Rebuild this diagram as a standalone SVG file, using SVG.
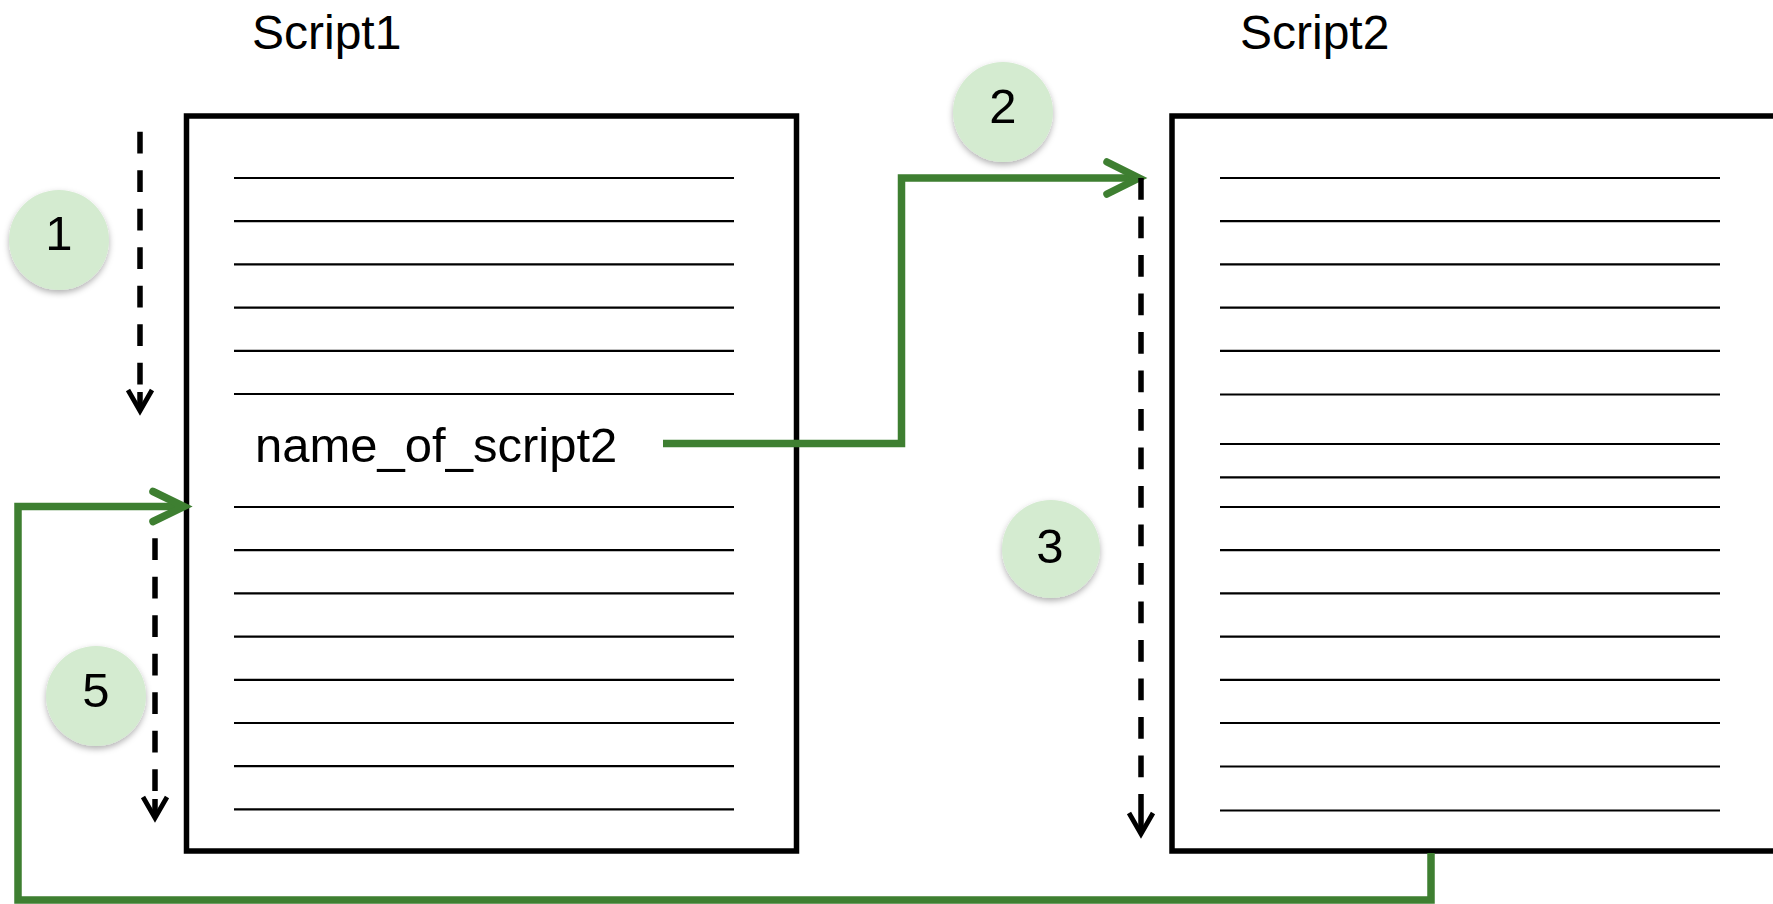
<svg xmlns="http://www.w3.org/2000/svg" width="1773" height="904" viewBox="0 0 1773 904">
  <style>
    .box { fill: #ffffff; stroke: #000000; stroke-width: 5.5; stroke-linejoin: miter; }
    .rule { stroke: #000000; stroke-width: 2.2; }
    .title { font-family: "Liberation Sans", Arial, sans-serif; font-size: 48px; fill: #000000; }
    .code { font-family: "Liberation Sans", Arial, sans-serif; font-size: 49px; fill: #000000; }
    .num { font-family: "Liberation Sans", Arial, sans-serif; font-size: 49px; fill: #000000; text-anchor: middle; }
    .badge { fill: #d4ebd0; filter: url(#shadow); }
    .flow { fill: none; stroke: #3e7f31; stroke-width: 7.5; stroke-linejoin: miter; }
    .head { fill: none; stroke: #3e7f31; stroke-width: 7.5; stroke-linecap: round; stroke-linejoin: miter; }
    .dash { fill: none; stroke: #000000; stroke-width: 5.5; stroke-dasharray: 21.7 16.8; }
    .solid { stroke-dasharray: none; }
    .dhead { fill: none; stroke: #000000; stroke-width: 4.8; stroke-linejoin: miter; }
  </style>
  <defs>
    <filter id="shadow" x="-30%" y="-30%" width="160%" height="170%">
      <feDropShadow dx="0" dy="3" stdDeviation="3" flood-color="#000000" flood-opacity="0.3"/>
    </filter>
  </defs>

  <g id="script1">
    <text class="title" x="252" y="49">Script1</text>
    <rect class="box" x="186.5" y="116" width="610" height="735"/>
    <g class="rules">
      <line class="rule" x1="234" y1="178" x2="734" y2="178"/>
      <line class="rule" x1="234" y1="221.2" x2="734" y2="221.2"/>
      <line class="rule" x1="234" y1="264.4" x2="734" y2="264.4"/>
      <line class="rule" x1="234" y1="307.6" x2="734" y2="307.6"/>
      <line class="rule" x1="234" y1="350.8" x2="734" y2="350.8"/>
      <line class="rule" x1="234" y1="394" x2="734" y2="394"/>
      <line class="rule" x1="234" y1="507" x2="734" y2="507"/>
      <line class="rule" x1="234" y1="550.2" x2="734" y2="550.2"/>
      <line class="rule" x1="234" y1="593.4" x2="734" y2="593.4"/>
      <line class="rule" x1="234" y1="636.6" x2="734" y2="636.6"/>
      <line class="rule" x1="234" y1="679.8" x2="734" y2="679.8"/>
      <line class="rule" x1="234" y1="723" x2="734" y2="723"/>
      <line class="rule" x1="234" y1="766.2" x2="734" y2="766.2"/>
      <line class="rule" x1="234" y1="809.4" x2="734" y2="809.4"/>
    </g>
    <text class="code" x="255" y="461.5">name_of_script2</text>
  </g>

  <g id="script2">
    <text class="title" x="1240" y="49">Script2</text>
    <rect class="box" x="1172" y="116" width="660" height="735"/>
    <g class="rules">
      <line class="rule" x1="1220" y1="178" x2="1720" y2="178"/>
      <line class="rule" x1="1220" y1="221.2" x2="1720" y2="221.2"/>
      <line class="rule" x1="1220" y1="264.4" x2="1720" y2="264.4"/>
      <line class="rule" x1="1220" y1="307.6" x2="1720" y2="307.6"/>
      <line class="rule" x1="1220" y1="350.8" x2="1720" y2="350.8"/>
      <line class="rule" x1="1220" y1="394.5" x2="1720" y2="394.5"/>
      <line class="rule" x1="1220" y1="444" x2="1720" y2="444"/>
      <line class="rule" x1="1220" y1="477.3" x2="1720" y2="477.3"/>
      <line class="rule" x1="1220" y1="507" x2="1720" y2="507"/>
      <line class="rule" x1="1220" y1="550.2" x2="1720" y2="550.2"/>
      <line class="rule" x1="1220" y1="593.4" x2="1720" y2="593.4"/>
      <line class="rule" x1="1220" y1="636.6" x2="1720" y2="636.6"/>
      <line class="rule" x1="1220" y1="679.8" x2="1720" y2="679.8"/>
      <line class="rule" x1="1220" y1="723" x2="1720" y2="723"/>
      <line class="rule" x1="1220" y1="766.5" x2="1720" y2="766.5"/>
      <line class="rule" x1="1220" y1="810.5" x2="1720" y2="810.5"/>
    </g>
  </g>

  <g id="connectors">
    <path class="dash" d="M140 131.7 V 386"/>
    <path class="dash solid" d="M140 392 V 409"/>
    <path class="dhead" d="M128 390 L140 411 L152 390"/>
    <path class="flow" d="M663 443.5 H 901.5 V 178 H 1135"/>
    <path class="head" d="M1107 162 L1139 178 L1107 194"/>
    <path class="dash" d="M1141 178 V 815"/>
    <path class="dash solid" d="M1141 815 V 831"/>
    <path class="dhead" d="M1129 813 L1141 834 L1153 813"/>
    <path class="flow" d="M1431 853 V 900 H 18 V 506.5 H 180"/>
    <path class="head" d="M153 491.5 L184 506.5 L153 521.5"/>
    <path class="dash" d="M155 538.3 V 793"/>
    <path class="dash solid" d="M155 799 V 815"/>
    <path class="dhead" d="M143 797 L155 818 L167 797"/>
  </g>

  <g id="step1">
    <circle class="badge" cx="59" cy="240" r="50"/>
    <text class="num" x="59" y="250">1</text>
  </g>
  <g id="step2">
    <circle class="badge" cx="1003" cy="112" r="50"/>
    <text class="num" x="1003" y="123">2</text>
  </g>
  <g id="step3">
    <circle class="badge" cx="1051" cy="549" r="49"/>
    <text class="num" x="1050" y="563">3</text>
  </g>
  <g id="step5">
    <circle class="badge" cx="96" cy="696" r="50"/>
    <text class="num" x="96" y="707">5</text>
  </g>
</svg>
